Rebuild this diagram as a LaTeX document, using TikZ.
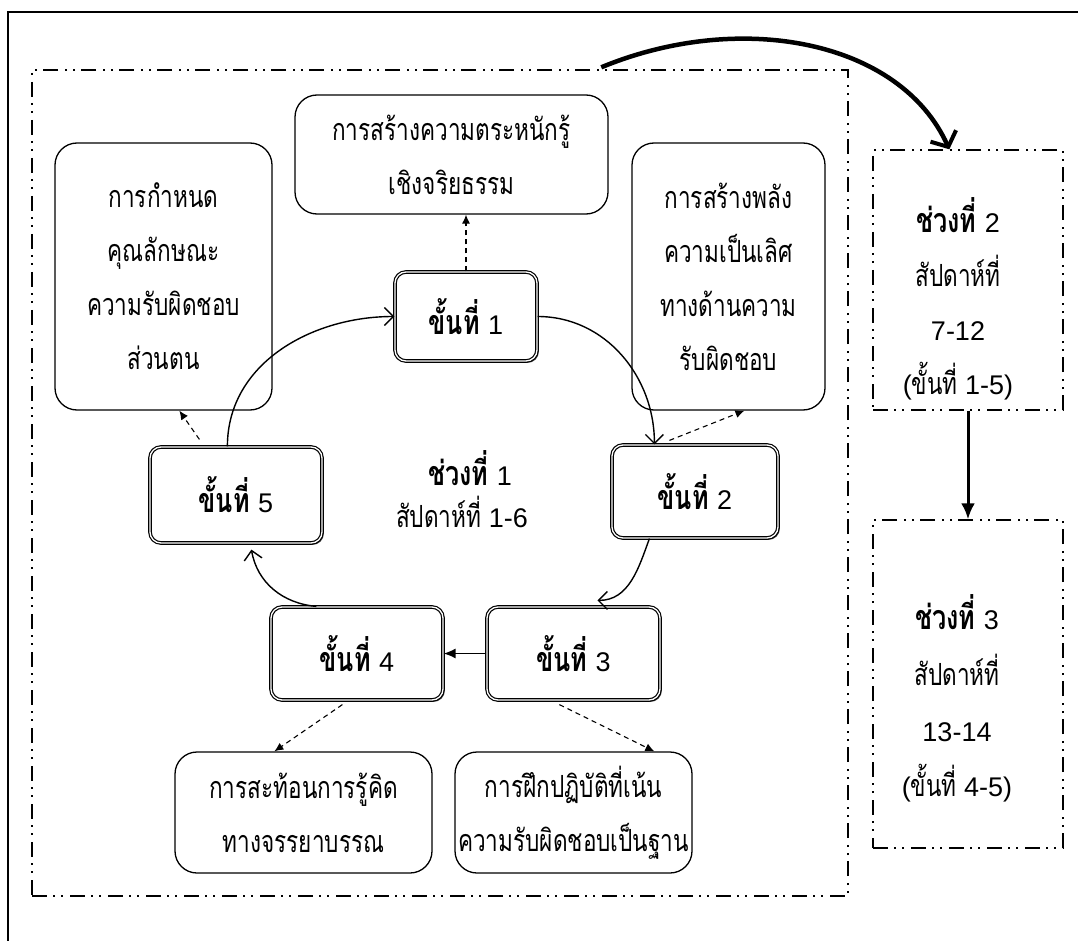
\documentclass[tikz,border=0pt]{standalone}
\usepackage{fontspec}
\newfontfamily\thai[Script=Thai, FakeStretch=0.74]{Loma}
\newfontfamily\lat{Liberation Sans}
\newcommand{\dg}[1]{{\lat\mdseries\fontsize{27}{54}\selectfont #1}}
\usetikzlibrary{arrows.meta,calc,shadows}
\tikzset{
  every node/.style={font=\thai\fontsize{30.5}{54}\selectfont},
  stepbox/.style={draw, double, double distance=1.3pt, line width=1.2pt, rounded corners=11pt,
     fill=white, inner sep=0pt, font=\thai\bfseries\fontsize{34}{54}\selectfont,
     drop shadow={shadow xshift=1.8pt, shadow yshift=-1.8pt, fill=black!70, opacity=1}},
  textbox/.style={draw, line width=1.3pt, rounded corners=22pt, inner sep=0pt, align=center, fill=white},
  ddd/.style={line width=1.4pt, dash pattern=on 15pt off 6pt on 2pt off 6pt on 2pt off 7pt},
  cyc/.style={line width=1.4pt, -{Straight Barb[length=9pt,width=18pt,line width=1.4pt]}},
  dsh/.style={line width=1.1pt, dash pattern=on 5pt off 4pt, -{Latex[length=9pt,width=8pt]}},
}
\begin{document}
\begin{tikzpicture}[x=1pt,y=1pt]
\useasboundingbox (0,0) rectangle (1078,-941);
% outer frame
\coordinate (fa) at (8,-941);
\coordinate (fb) at (8,-12);
\coordinate (fc) at (1078,-12);
\draw[line width=2pt] (fa) -- (fb) -- (fc);
% phase frames
\node[ddd, draw, minimum width=816pt, minimum height=826pt, inner sep=0pt] (ph1) at (440,-483) {};
\node[ddd, draw, minimum width=190pt, minimum height=260pt, inner sep=0pt] (ph2) at (968,-280) {};
\node[ddd, draw, minimum width=190pt, minimum height=328pt, inner sep=0pt] (ph3) at (968,-684) {};
\node[align=center, font=\thai\fontsize{30.5}{54}\selectfont] (ph2t) at (958,-299) {{\bfseries\fontsize{34}{54}\selectfont ช่วงที่ \dg{2}}\\สัปดาห์ที่\\\dg{7-12}\\\dg{(}ขั้นที่ \dg{1-5)}};
\node[align=center, font=\thai\fontsize{30.5}{55.7}\selectfont] (ph3t) at (957,-698.5) {{\bfseries\fontsize{34}{55.7}\selectfont ช่วงที่ \dg{3}}\\สัปดาห์ที่\\\dg{13-14}\\\dg{(}ขั้นที่ \dg{4-5)}};
% text boxes
\node[textbox, minimum width=313pt, minimum height=119pt] (t1) at (451.5,-154.5) {การสร้างความตระหนักรู้\\เชิงจริยธรรม};
\node[textbox, minimum width=217pt, minimum height=267pt] (t5) at (163.5,-276.5) {การกำหนด\\คุณลักษณะ\\ความรับผิดชอบ\\ส่วนตน};
\node[textbox, minimum width=193pt, minimum height=267pt] (t2) at (728.5,-276.5) {การสร้างพลัง\\ความเป็นเลิศ\\ทางด้านความ\\รับผิดชอบ};
\node[textbox, minimum width=257pt, minimum height=121pt] (t4) at (303.5,-812.5) {การสะท้อนการรู้คิด\\ทางจรรยาบรรณ};
\node[textbox, minimum width=237pt, minimum height=121pt] (t3) at (573.5,-812.5) {การฝึกปฏิบัติที่เน้น\\ความรับผิดชอบเป็นฐาน};
% step boxes
\node[stepbox, minimum width=142pt, minimum height=89pt] (s1) at (466,-316.5) {ขั้นที่ \dg{1}};
\node[stepbox, minimum width=166pt, minimum height=93pt] (s2) at (695,-491.5) {ขั้นที่ \dg{2}};
\node[stepbox, minimum width=173pt, minimum height=93pt] (s3) at (573.5,-653.5) {ขั้นที่ \dg{3}};
\node[stepbox, minimum width=172pt, minimum height=93pt] (s4) at (357,-653.5) {ขั้นที่ \dg{4}};
\node[stepbox, minimum width=172pt, minimum height=96pt] (s5) at (236,-495) {ขั้นที่ \dg{5}};
% centre label
\node[font=\thai\bfseries\fontsize{34}{54}\selectfont] (c1) at (470,-468) {ช่วงที่ \dg{1}};
\node (c2) at (462,-512) {สัปดาห์ที่ \dg{1-6}};
% cycle arrows
\draw[cyc] ($(s5.north west)+(78,0)$) to[out=90,in=180] (s1.west);
\draw[cyc] (s1.east) to[out=0,in=90] ($(s2.north west)+(43,0)$);
\draw[cyc] ($(s2.south west)+(38,0)$) to[out=-110,in=0] ($(s3.north west)+(111,6)$);
\draw[line width=1.4pt, -{Latex[length=12pt,width=10pt]}] (s3.west) -- (s4.east);
\draw[cyc] ($(s4.north west)+(46,0)$) to[out=175,in=-80] ($(s5.south west)+(102,-6)$);
% dashed arrows
\draw[dsh] (s1.north) -- (s1.north |- t1.south);
\draw[dsh] ($(s2.north west)+(58,4)$) -- ($(t2.south west)+(113,0)$);
\draw[dsh] ($(s5.north west)+(50,7)$) -- ($(t5.south west)+(125,0)$);
\draw[dsh] ($(s4.south west)+(72,-4)$) -- ($(t4.north west)+(100,0)$);
\draw[dsh] ($(s3.south west)+(73,-4)$) -- ($(t3.north west)+(200,0)$);
% phase arrows
\draw[line width=4.5pt, -{Straight Barb[length=12pt,width=28pt,line width=4pt]}] ($(ph1.north west)+(570,2)$) .. controls (740,-10) and (900,-40) .. ($(ph2.north west)+(77,0)$);
\draw[line width=3pt, -{Latex[length=16pt,width=14pt]}] (ph2.south) -- (ph3.north);
\end{tikzpicture}
\end{document}
